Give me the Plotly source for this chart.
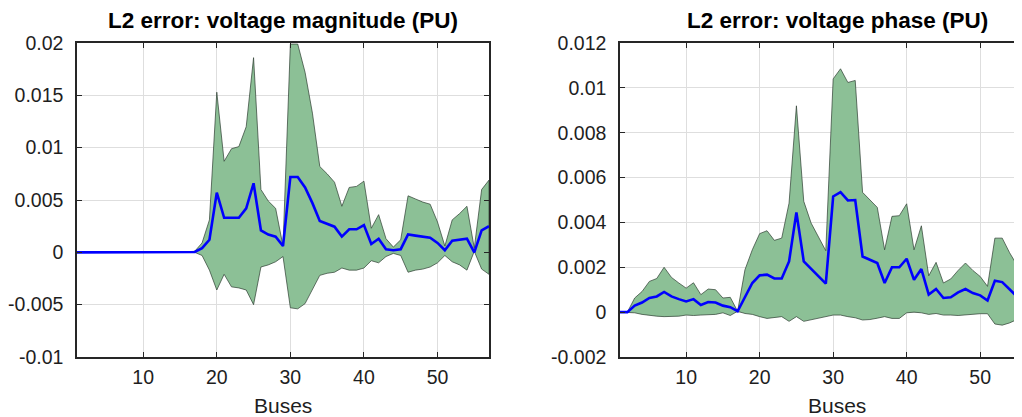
import plotly.graph_objects as go

buses = list(range(1, 58))

# Left: voltage magnitude L2 error (PU)
mag_mean = [0, 0, 0, 0, 0, 0, 0, 0, 0, 0,
            0, 0, 0.00001, 0.00002, 0.00003, 0.00005, 0.00003, 0.0004, 0.0012, 0.0057,
            0.0033, 0.0033, 0.0033, 0.0042, 0.0066, 0.0021, 0.0017, 0.0015, 0.0006, 0.0072,
            0.0072, 0.0062, 0.0047, 0.0030, 0.0027, 0.00245, 0.0015, 0.0022, 0.0022, 0.0026,
            0.0008, 0.0013, 0.0003, 0.0002, 0.0003, 0.0017, 0.0016, 0.0015, 0.0014, 0.0009,
            0.0002, 0.0011, 0.0012, 0.0013, 0.0000, 0.0021, 0.0025]
mag_upper = [0, 0, 0, 0, 0, 0, 0, 0, 0, 0,
             0, 0, 0.00001, 0.00002, 0.00004, 0.00006, 0.0001, 0.0009, 0.0031, 0.0153,
             0.0087, 0.0099, 0.0101, 0.0120, 0.0186, 0.0060, 0.0049, 0.0042, 0.0006, 0.0199,
             0.0199, 0.0172, 0.0133, 0.0082, 0.0075, 0.0067, 0.0044, 0.0062, 0.0063, 0.0068,
             0.0023, 0.0036, 0.0013, 0.0005, 0.0012, 0.0054, 0.0051, 0.0048, 0.0046, 0.0029,
             0.0006, 0.0031, 0.0037, 0.0044, 0.0004, 0.0060, 0.0069]
mag_lower = [0, 0, 0, 0, 0, 0, 0, 0, 0, 0,
             0, 0, 0, 0, 0, 0, 0, -0.0003, -0.0017, -0.0036,
             -0.0021, -0.0033, -0.0034, -0.0036, -0.0050, -0.0014, -0.0012, -0.0009, -0.0004, -0.0053,
             -0.0054, -0.0049, -0.0036, -0.0022, -0.0020, -0.0019, -0.0015, -0.0017, -0.0017, -0.0015,
             -0.0008, -0.0010, -0.0004, -0.0001, -0.0003, -0.0019, -0.0017, -0.0016, -0.0014, -0.0010,
             -0.0003, -0.0009, -0.0012, -0.0017, 0.0001, -0.0016, -0.0021]

# Right: voltage phase L2 error (PU)
ph_mean = [0, 0, 0.00029, 0.00043, 0.00063, 0.0007, 0.0009, 0.0007, 0.00058, 0.00048,
           0.00058, 0.00032, 0.00045, 0.00043, 0.00029, 0.00022, 0.00004, 0.0007, 0.0013, 0.00164,
           0.00167, 0.0015, 0.0015, 0.00226, 0.00445, 0.00226, 0.00192, 0.00159, 0.00127, 0.00516,
           0.00535, 0.00498, 0.0050, 0.00248, 0.00234, 0.00219, 0.0013, 0.0020, 0.0020, 0.00238,
           0.00144, 0.00192, 0.00078, 0.00103, 0.00063, 0.00066, 0.00088, 0.00103, 0.00085, 0.00075,
           0.00052, 0.0014, 0.00134, 0.0010, 0.0007, 0.0029, 0.0025]
ph_upper = [0, 0, 0.00063, 0.00092, 0.00137, 0.0015, 0.0020, 0.00155, 0.0013, 0.00107,
            0.00131, 0.00078, 0.00103, 0.0010, 0.00063, 0.00066, 0.00004, 0.00189, 0.00278, 0.0035,
            0.00363, 0.0032, 0.0033, 0.00486, 0.0092, 0.00494, 0.00397, 0.00338, 0.00274, 0.0104,
            0.01085, 0.01024, 0.01033, 0.00534, 0.0050, 0.00467, 0.00278, 0.00427, 0.0043, 0.00483,
            0.00278, 0.00385, 0.00162, 0.00222, 0.0013, 0.00148, 0.00186, 0.00219, 0.00186, 0.00159,
            0.00115, 0.0033, 0.0033, 0.00265, 0.0021, 0.0040, 0.0042]
ph_lower = [0, 0, -0.00003, -0.0001, -0.00015, -0.00018, -0.0002, -0.0002, -0.00018, -0.00013,
            -0.00015, -0.00013, -0.0001, -0.0001, -0.00003, -0.00015, 0.00004, -0.00006, -0.0001, -0.0002,
            -0.00028, -0.00025, -0.0002, -0.00041, -0.0002, -0.00041, -0.00033, -0.00027, -0.0002, -0.00013,
            -0.00013, -0.0002, -0.00025, -0.00035, -0.00033, -0.00027, -0.0002, -0.00028, -0.00028, -0.00003,
            0.0, -0.00003, -0.0001, -0.00006, -0.00013, -0.00013, -0.00015, -0.00013, -0.0001, -0.00007,
            -0.00007, -0.00053, -0.00058, -0.00048, -0.00033, -0.0001, -0.0002]

mag_ticks = [-0.01, -0.005, 0, 0.005, 0.01, 0.015, 0.02]
mag_ticktext = ["-0.01", "-0.005", "0", "0.005", "0.01", "0.015", "0.02"]
ph_ticks = [-0.002, 0, 0.002, 0.004, 0.006, 0.008, 0.01, 0.012]
ph_ticktext = ["-0.002", "0", "0.002", "0.004", "0.006", "0.008", "0.01", "0.012"]
x_ticks = [10, 20, 30, 40, 50]

titles = ["L2 error: voltage magnitude (PU)", "L2 error: voltage phase (PU)"]
xlabel = "Buses"

FILL = "rgb(140,192,150)"
EDGE = "rgb(45,60,48)"
BLUE = "rgb(0,0,255)"
AX = "rgb(38,38,38)"
GRID = "rgb(222,222,222)"
FONT = "Liberation Sans, Arial, sans-serif"

fig = go.Figure()

def add_panel(mean, upper, lower, xa, ya):
    fig.add_trace(go.Scatter(
        x=buses + buses[::-1], y=upper + lower[::-1],
        fill="toself", fillcolor=FILL, mode="lines",
        line=dict(color=EDGE, width=0.7), hoverinfo="skip",
        showlegend=False, xaxis=xa, yaxis=ya))
    fig.add_trace(go.Scatter(
        x=buses, y=mean, mode="lines",
        line=dict(color=BLUE, width=2.6), showlegend=False,
        xaxis=xa, yaxis=ya))

add_panel(mag_mean, mag_upper, mag_lower, "x", "y")
add_panel(ph_mean, ph_upper, ph_lower, "x2", "y2")

# page has an 8px body margin: figure coords = page coords - 8
OFF = 8
W, H = 1022 - OFF, 417 - OFF
top_px, bot_px = 43 - OFF, 357 - OFF
ydom = [(H - bot_px) / H, (H - top_px) / H]

common_x = dict(tickvals=x_ticks, showgrid=True, gridcolor=GRID, gridwidth=1,
                showline=True, linecolor=AX, linewidth=1.5, mirror="ticks",
                ticks="inside", ticklen=5, tickcolor=AX, zeroline=False,
                tickfont=dict(size=19.5, color="rgb(30,30,30)", family=FONT),
                ticklabelstandoff=2, automargin=False)
common_y = dict(showgrid=True, gridcolor=GRID, gridwidth=1,
                showline=True, linecolor=AX, linewidth=1.5,
                ticks="inside", ticklen=5, tickcolor=AX, zeroline=False,
                tickfont=dict(size=19.5, color="rgb(30,30,30)", family=FONT),
                ticklabelstandoff=8, domain=ydom, automargin=False)

fig.update_layout(
    width=W, height=H, margin=dict(l=0, r=0, t=0, b=0, autoexpand=False),
    paper_bgcolor="white", plot_bgcolor="white",
    font=dict(family=FONT, color="rgb(30,30,30)"),
    xaxis=dict(domain=[(77 - OFF) / W, (489 - OFF) / W], range=[1, 57], anchor="y", **common_x),
    yaxis=dict(range=[-0.01, 0.02], tickvals=mag_ticks, ticktext=mag_ticktext,
               anchor="x", mirror="ticks", **common_y),
    xaxis2=dict(domain=[(620 - OFF) / W, 1.0], range=[1, 55.69], anchor="y2", **common_x),
    yaxis2=dict(range=[-0.002, 0.012], tickvals=ph_ticks, ticktext=ph_ticktext,
                anchor="x2", mirror=False, **common_y),
)

for i, c in enumerate([283, 837]):
    fig.add_annotation(text="<b>" + titles[i] + "</b>", x=(c - OFF) / W, y=(H - (21 - OFF)) / H,
                       xref="paper", yref="paper", xanchor="center", yanchor="middle",
                       showarrow=False, font=dict(size=22.5, color="black", family=FONT))
    fig.add_annotation(text=xlabel, x=(c - OFF) / W, y=(H - (405 - OFF)) / H,
                       xref="paper", yref="paper", xanchor="center", yanchor="middle",
                       showarrow=False, font=dict(size=21, color="rgb(30,30,30)", family=FONT))

fig.write_html("out.html")
